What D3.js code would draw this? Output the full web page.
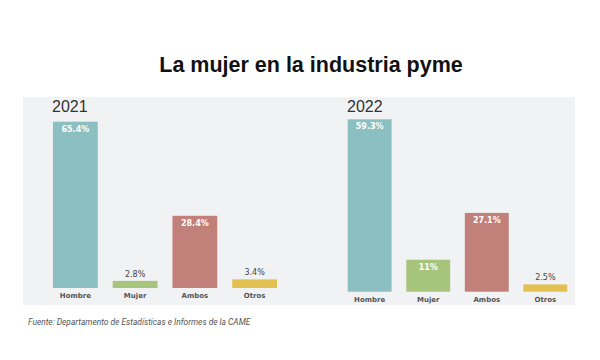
<!DOCTYPE html>
<html><head><meta charset="utf-8">
<script src="https://cdn.jsdelivr.net/npm/d3@7"></script>
<style>html,body{margin:0;padding:0;background:#fff;}svg{display:block;}</style>
</head><body>
<svg id="c" width="600" height="360"></svg>
<script>
const categories = ["Hombre", "Mujer", "Ambos", "Otros"];
const years = ["2021", "2022"];
const values2021 = [65.4, 2.8, 28.4, 3.4];
const values2022 = [59.3, 11, 27.1, 2.5];
const valueLabels2021 = ["65.4%", "2.8%", "28.4%", "3.4%"];
const valueLabels2022 = ["59.3%", "11%", "27.1%", "2.5%"];
const colors = ["#8cbfc1", "#a7c47c", "#c1807a", "#e2c150"];

const svg = d3.select("#c");
svg.append("rect").attr("x", 23).attr("y", 97).attr("width", 552).attr("height", 208).attr("fill", "#f1f2f4");

svg.append("text").attr("x", 311).attr("y", 72).attr("text-anchor", "middle")
  .attr("font-family", "Liberation Sans, Arial, sans-serif").attr("font-weight", "bold")
  .attr("font-size", 21.5).attr("fill", "#111").text("La mujer en la industria pyme");

svg.append("text").attr("x", 28).attr("y", 325)
  .attr("font-family", "Roboto, sans-serif").attr("font-style", "italic")
  .attr("font-size", 8.4).attr("fill", "#555").text("Fuente: Departamento de Estadísticas e Informes de la CAME");

const panels = [
  {year: years[0], vals: values2021, labs: valueLabels2021, x0: 41, x1: 289, base: 288, top: 121.7, max: 65.4, yearX: 52},
  {year: years[1], vals: values2022, labs: valueLabels2022, x0: 336, x1: 579, base: 291.7, top: 119.3, max: 59.3, yearX: 347}
];

panels.forEach(p => {
  const g = svg.append("g");
  const x = d3.scaleBand().domain(categories).range([p.x0, p.x1]).paddingInner(0.25).paddingOuter(0.2);
  const y = d3.scaleLinear().domain([0, p.max]).range([p.base, p.top]);
  g.append("text").attr("x", p.yearX).attr("y", 112).attr("font-family", "Liberation Sans, Arial, sans-serif")
    .attr("font-size", 16).attr("fill", "#333").text(p.year);
  const data = categories.map((c, i) => ({c, v: p.vals[i], l: p.labs[i], col: colors[i]}));
  g.selectAll("rect.bar").data(data).join("rect").attr("class", "bar")
    .attr("x", d => x(d.c)).attr("width", x.bandwidth())
    .attr("y", d => y(d.v)).attr("height", d => y(0) - y(d.v)).attr("fill", d => d.col);
  g.selectAll("text.val").data(data).join("text").attr("class", "val")
    .attr("x", d => x(d.c) + x.bandwidth() / 2)
    .attr("y", d => (y(0) - y(d.v)) > 20 ? y(d.v) + 10 : y(d.v) - 4)
    .attr("text-anchor", "middle").attr("font-family", "DejaVu Sans, sans-serif")
    .attr("font-weight", d => (y(0) - y(d.v)) > 20 ? "bold" : "normal")
    .attr("font-size", 8)
    .attr("fill", d => (y(0) - y(d.v)) > 20 ? "#fff" : "#444").text(d => d.l);
  const ax = g.append("g").attr("transform", `translate(0,${p.base})`)
    .call(d3.axisBottom(x).tickSize(0).tickPadding(5));
  ax.select(".domain").remove();
  ax.selectAll("text").attr("font-family", "DejaVu Sans, sans-serif").attr("font-weight", "bold")
    .attr("font-size", 7).attr("fill", "#555");
});
</script>
</body></html>
